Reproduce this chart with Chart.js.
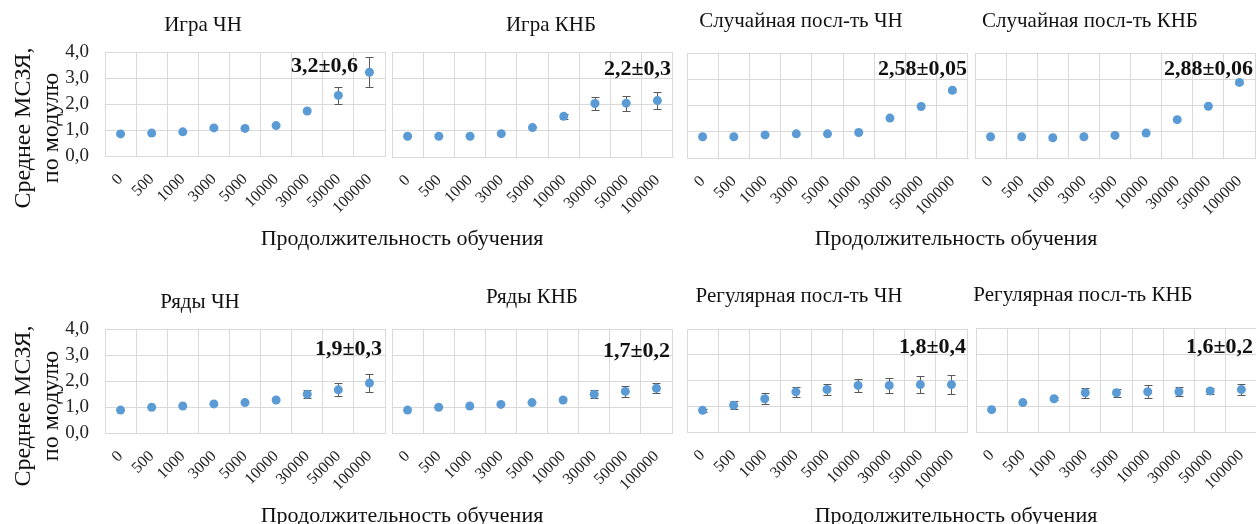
<!DOCTYPE html>
<html>
<head>
<meta charset="utf-8">
<script src="https://cdn.jsdelivr.net/npm/chart.js@4.4.1/dist/chart.umd.min.js"></script>
<style>
  html, body { margin: 0; padding: 0; background: #fff; }
  body { width: 1256px; height: 524px; position: relative; overflow: hidden; font-family: "Liberation Serif", "Times New Roman", serif; color: #111; }
  .lbl { position: absolute; white-space: nowrap; line-height: 1; }
  canvas { position: absolute; }
</style>
</head>
<body>
<script>
// categories (training duration)
const durations = ['0', '500', '1000', '3000', '5000', '10000', '30000', '50000', '100000'];
const yTicks = [0, 1, 2, 3, 4];

// mean abs error and error bar half-widths per panel
const gameChnMean = [0.85, 0.88, 0.93, 1.08, 1.06, 1.17, 1.73, 2.33, 3.22];
const gameChnErr = [0, 0, 0, 0, 0, 0, 0, 0.34, 0.57];
const gameKnbMean = [0.79, 0.79, 0.79, 0.89, 1.12, 1.55, 2.04, 2.05, 2.15];
const gameKnbErr = [0, 0, 0, 0, 0, 0.1, 0.24, 0.28, 0.32];
const randChnMean = [0.81, 0.81, 0.88, 0.92, 0.92, 0.97, 1.52, 1.96, 2.58];
const randChnErr = [0, 0, 0, 0, 0, 0, 0, 0, 0.05];
const randKnbMean = [0.81, 0.81, 0.77, 0.81, 0.86, 0.95, 1.46, 1.97, 2.88];
const randKnbErr = [0, 0, 0, 0, 0, 0, 0, 0, 0.06];
const rowsChnMean = [0.88, 0.99, 1.04, 1.12, 1.17, 1.27, 1.49, 1.66, 1.92];
const rowsChnErr = [0, 0, 0, 0, 0, 0, 0.15, 0.25, 0.34];
const rowsKnbMean = [0.88, 0.99, 1.04, 1.10, 1.17, 1.27, 1.49, 1.60, 1.72];
const rowsKnbErr = [0, 0, 0, 0, 0, 0, 0.15, 0.2, 0.2];
const regChnMean = [0.84, 1.04, 1.29, 1.56, 1.65, 1.81, 1.81, 1.84, 1.84];
const regChnErr = [0.05, 0.15, 0.21, 0.19, 0.23, 0.25, 0.29, 0.34, 0.38];
const regKnbMean = [0.86, 1.13, 1.28, 1.51, 1.51, 1.55, 1.55, 1.58, 1.63];
const regKnbErr = [0, 0, 0.05, 0.19, 0.15, 0.24, 0.17, 0.1, 0.2];

const panelTitles = ['Игра ЧН', 'Игра КНБ', 'Случайная посл-ть ЧН', 'Случайная посл-ть КНБ',
                     'Ряды ЧН', 'Ряды КНБ', 'Регулярная посл-ть ЧН', 'Регулярная посл-ть КНБ'];
const panelNotes = ['3,2±0,6', '2,2±0,3', '2,58±0,05', '2,88±0,06', '1,9±0,3', '1,7±0,2', '1,8±0,4', '1,6±0,2'];
const panelMeans = [gameChnMean, gameKnbMean, randChnMean, randKnbMean, rowsChnMean, rowsKnbMean, regChnMean, regKnbMean];
const panelErrs = [gameChnErr, gameKnbErr, randChnErr, randKnbErr, rowsChnErr, rowsKnbErr, regChnErr, regKnbErr];
const xTitle = 'Продолжительность обучения';
const yTitle = ['Среднее МСЗЯ,', 'по модулю'];

// layout: plot rectangle [left, top, right, bottom], title centre / baseline, note right / baseline
const plotBoxes = [
    [105, 52, 385, 156], [392, 52, 673, 157], [687, 53, 968, 158], [975, 53, 1255, 158],
    [105, 329, 385, 433], [392, 329, 672, 433], [687, 329, 967, 432], [976, 328, 1257, 432]
];
const titlePos = [[203, 32], [551, 32], [801, 28], [1090, 28], [200, 309], [532, 304], [799, 303], [1083, 302]];
const notePos = [[358, 72], [671, 75], [967, 75], [1253, 75], [382, 355], [670, 357], [966, 353], [1253, 353]];

const gridColor = '#d9d9d9';
const pointColor = '#5b9bd5';
const textColor = '#222';
const PAD_T = 30, PAD_R = 16, X_H = 70;

function addText(text, x, baseline, size, opts) {
    opts = opts || {};
    const d = document.createElement('div');
    d.className = 'lbl';
    d.textContent = text;
    d.style.fontSize = size + 'px';
    if (opts.bold) d.style.fontWeight = 'bold';
    d.style.top = (baseline - 0.8375 * size) + 'px';
    if (opts.align === 'right') {
        d.style.right = (1256 - x) + 'px';
    } else {
        d.style.left = x + 'px';
        d.style.transform = 'translateX(-50%)';
    }
    document.body.appendChild(d);
}

function addYTitle(cx, cy) {
    const d = document.createElement('div');
    d.className = 'lbl';
    d.style.fontSize = '24px';
    d.style.lineHeight = '28px';
    d.style.textAlign = 'center';
    d.innerHTML = yTitle.join('<br>');
    d.style.left = cx + 'px';
    d.style.top = cy + 'px';
    d.style.transform = 'translate(-50%, -50%) rotate(-90deg)';
    document.body.appendChild(d);
}

// error bars are drawn under the markers
const errorBars = {
    id: 'errorBars',
    beforeDatasetsDraw(chart, args, opts) {
        const ctx = chart.ctx;
        const x = chart.scales.x;
        const y = chart.scales.y;
        const means = chart.data.datasets[0].data;
        ctx.save();
        ctx.strokeStyle = '#595959';
        ctx.lineWidth = 1;
        opts.errs.forEach((e, i) => {
            if (!e) return;
            const px = Math.round(x.getPixelForValue(i)) + 0.5;
            const hi = Math.round(y.getPixelForValue(means[i] + e)) + 0.5;
            const lo = Math.round(y.getPixelForValue(means[i] - e)) + 0.5;
            ctx.beginPath();
            ctx.moveTo(px, hi); ctx.lineTo(px, lo);
            ctx.moveTo(px - 4, hi); ctx.lineTo(px + 4, hi);
            ctx.moveTo(px - 4, lo); ctx.lineTo(px + 4, lo);
            ctx.stroke();
        });
        ctx.restore();
    }
};

function makePanel(idx) {
    const [l, t, r, b] = plotBoxes[idx];
    const showY = idx % 4 === 0;
    const axW = showY ? 46 : 16;
    const canvas = document.createElement('canvas');
    canvas.width = (r - l) + axW + PAD_R;
    canvas.height = (b - t) + PAD_T + X_H;
    canvas.style.left = (l - axW) + 'px';
    canvas.style.top = (t - PAD_T) + 'px';
    document.body.appendChild(canvas);

    new Chart(canvas, {
        type: 'line',
        data: {
            labels: durations,
            datasets: [{
                data: panelMeans[idx],
                showLine: false,
                pointRadius: 4.5,
                pointHoverRadius: 4.5,
                pointBorderWidth: 0,
                pointBackgroundColor: pointColor,
                borderColor: pointColor
            }]
        },
        options: {
            responsive: false,
            animation: false,
            events: [],
            layout: { padding: { top: PAD_T, right: PAD_R, left: 0, bottom: 0 } },
            plugins: {
                legend: { display: false },
                tooltip: { enabled: false },
                errorBars: { errs: panelErrs[idx] }
            },
            scales: {
                x: {
                    type: 'category',
                    offset: true,
                    grid: { color: gridColor, offset: true, drawTicks: false },
                    border: { color: gridColor },
                    ticks: {
                        minRotation: 45,
                        maxRotation: 45,
                        autoSkip: false,
                        padding: 14,
                        color: textColor,
                        font: { family: 'Liberation Serif', size: 16 }
                    },
                    afterFit: (scale) => { scale.height = X_H; }
                },
                y: {
                    min: yTicks[0],
                    max: yTicks[yTicks.length - 1],
                    afterBuildTicks: (scale) => { scale.ticks = yTicks.map(v => ({ value: v })); },
                    grid: { color: gridColor, drawTicks: false },
                    border: { color: gridColor },
                    ticks: {
                        display: showY,
                        autoSkip: false,
                        padding: 16,
                        color: textColor,
                        font: { family: 'Liberation Serif', size: 19 },
                        callback: (v) => v.toFixed(1).replace('.', ',')
                    },
                    afterFit: (scale) => { scale.width = axW; }
                }
            }
        },
        plugins: [errorBars]
    });

    addText(panelTitles[idx], titlePos[idx][0], titlePos[idx][1], 21);
    addText(panelNotes[idx], notePos[idx][0], notePos[idx][1], 22, { bold: true, align: 'right' });
}

for (let i = 0; i < 8; i++) makePanel(i);

addText(xTitle, 402, 245, 22);
addText(xTitle, 956, 245, 22);
addText(xTitle, 402, 522, 22);
addText(xTitle, 956, 522, 22);
addYTitle(36, 128);
addYTitle(36, 406);
</script>
</body>
</html>
